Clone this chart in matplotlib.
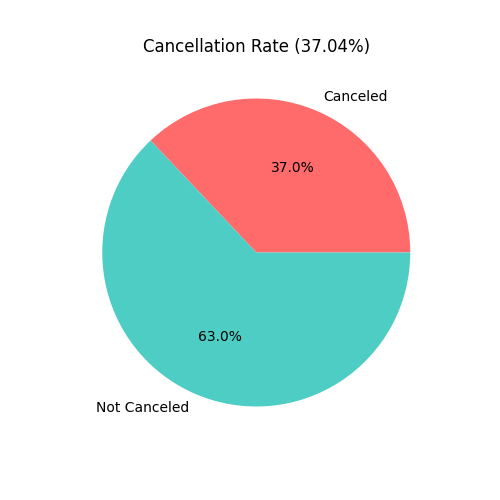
import matplotlib
matplotlib.use("Agg")
import matplotlib.pyplot as plt

# 数据
labels = ["Canceled", "Not Canceled"]
values = [37.04, 62.96]
colors = ["#FF6B6B", "#4ECDC4"]
rate = values[0] / sum(values) * 100

fig = plt.figure(figsize=(5, 5), dpi=100)
plt.pie(values, labels=labels, colors=colors, autopct="%1.1f%%")
plt.title(f"Cancellation Rate ({rate:.2f}%)")
plt.savefig("out.png", dpi=100)
plt.close()
